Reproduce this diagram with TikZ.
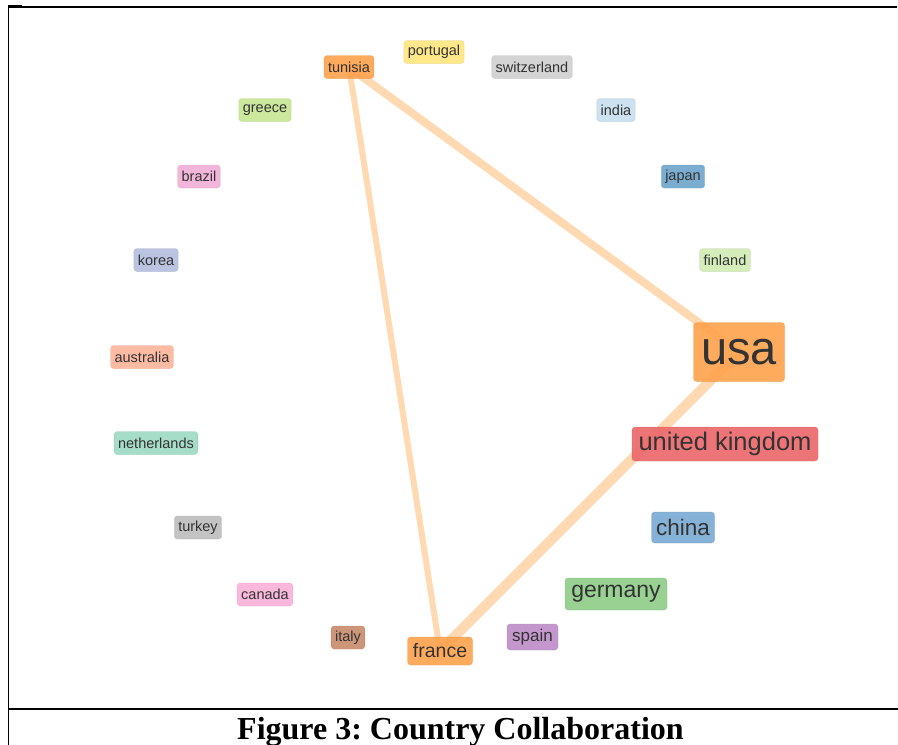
\documentclass[tikz,border=0pt]{standalone}
\usepackage{fontspec}
\setmainfont{Liberation Serif}
\newfontfamily\lab{Liberation Sans}
\frenchspacing
\definecolor{cOrange}{HTML}{FFA24D}
\definecolor{cPortugal}{HTML}{FFE57C}
\definecolor{cSwiss}{HTML}{CFCFCF}
\definecolor{cIndia}{HTML}{C6DFEE}
\definecolor{cGreece}{HTML}{C5E592}
\definecolor{cJapan}{HTML}{6CA4CB}
\definecolor{cBrazil}{HTML}{F1AED6}
\definecolor{cFinland}{HTML}{CFEBB2}
\definecolor{cKorea}{HTML}{B2BCDC}
\definecolor{cAustralia}{HTML}{FDB49A}
\definecolor{cUK}{HTML}{EB6669}
\definecolor{cNether}{HTML}{9CD9C2}
\definecolor{cChina}{HTML}{7AAAD4}
\definecolor{cTurkey}{HTML}{BDBDBD}
\definecolor{cGermany}{HTML}{8DCC86}
\definecolor{cCanada}{HTML}{F9B0D8}
\definecolor{cItaly}{HTML}{C88B6B}
\definecolor{cSpain}{HTML}{BE8CC7}
\definecolor{cEdge}{HTML}{FFD9B2}
\definecolor{cText}{HTML}{333333}
\tikzset{
  country/.style={rounded corners=3pt, fill=#1, draw=#1!85!black, draw opacity=0.25,
    line width=0.8pt, fill opacity=0.9, text opacity=1, text=cText,
    inner xsep=4pt, inner ysep=0pt, minimum height=23pt,
    font=\lab\fontsize{14.5}{15}\selectfont},
  link/.style={draw=cEdge, line cap=round},
  frame/.style={line width=1.8pt, black}
}
\begin{document}
\begin{tikzpicture}[x=1pt,y=-1pt]
\useasboundingbox (0,0) rectangle (898,745);
% frame
\draw[frame] (8.5,7) -- (897,7);
\draw[frame] (8.5,6) -- (8.5,745);
\draw[line width=3pt] (8,6.5) -- (22,6.5);
\draw[frame] (8.5,709) -- (898,709);
% coordinates for node centres
\coordinate (pT) at (349,67);
\coordinate (pU) at (739,352);
\coordinate (pF) at (440,651);
% edges
\draw[link, line width=6pt] (pT) -- (pF);
\draw[link, line width=8pt] (pT) -- (pU);
\draw[link, line width=10pt] (pF) -- (pU);
% nodes
\node[country=cOrange] (tunisia) at (pT) {tunisia};
\node[country=cPortugal] (portugal) at (434,52) {portugal};
\node[country=cSwiss] (switzerland) at (532,67) {switzerland};
\node[country=cIndia] (india) at (616,110) {india};
\node[country=cGreece] (greece) at (265,110) {greece};
\node[country=cJapan] (japan) at (683,176.5) {japan};
\node[country=cBrazil] (brazil) at (199,176.5) {brazil};
\node[country=cFinland] (finland) at (725,260) {finland};
\node[country=cKorea] (korea) at (156,260) {korea};
\node[country=cAustralia] (australia) at (142,357) {australia};
\node[country=cNether] (netherlands) at (156,443) {netherlands};
\node[country=cTurkey] (turkey) at (198,527.5) {turkey};
\node[country=cCanada] (canada) at (265,594.5) {canada};
\node[country=cItaly] (italy) at (348,637.5) {italy};
\node[country=cOrange, minimum width=91pt, minimum height=59pt, inner xsep=0pt,
  font=\lab\fontsize{47}{47}\selectfont] (usa) at (pU) {usa};
\node[country=cUK, minimum width=186pt, minimum height=34pt, inner xsep=0pt,
  font=\lab\fontsize{25.5}{26}\selectfont] (uk) at (725,444) {united kingdom};
\node[country=cChina, minimum width=63pt, minimum height=31pt, inner xsep=0pt,
  font=\lab\fontsize{22.5}{23}\selectfont] (china) at (683,527.5) {china};
\node[country=cGermany, minimum width=102pt, minimum height=32pt, inner xsep=0pt,
  font=\lab\fontsize{23}{23}\selectfont] (germany) at (616,594) {germany};
\node[country=cSpain, minimum width=51pt, minimum height=26pt, inner xsep=0pt,
  font=\lab\fontsize{17}{17}\selectfont] (spain) at (532.5,637) {spain};
\node[country=cOrange, minimum width=65pt, minimum height=28pt, inner xsep=0pt,
  font=\lab\fontsize{19.5}{20}\selectfont] (france) at (pF) {france};
% caption
\node[anchor=base, font=\bfseries\fontsize{32}{32}\selectfont, inner sep=0pt] (caption) at (460.5,739) {Figure 3: Country Collaboration};
\end{tikzpicture}
\end{document}
